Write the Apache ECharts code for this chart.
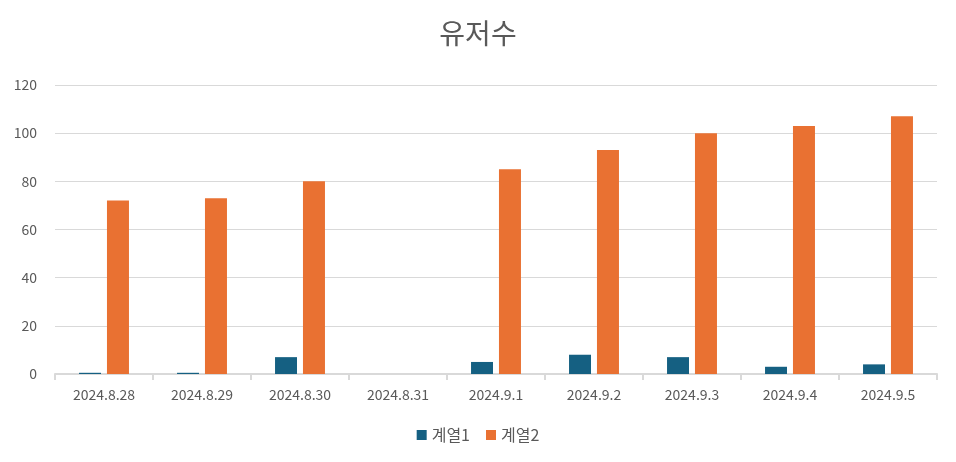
<!DOCTYPE html><html><head><meta charset="utf-8"><script src="https://cdn.jsdelivr.net/npm/echarts@6/dist/echarts.min.js"></script></head><body style="margin:0"><div id="c" style="width:956px;height:462px"></div><script>
const categories=['2024.8.28','2024.8.29','2024.8.30','2024.8.31','2024.9.1','2024.9.2','2024.9.3','2024.9.4','2024.9.5'];
const series1=[0.5,0.5,7,0,5,8,7,3,4];
const series2=[72,73,80,0,85,93,100,103,107];
const yTicks=[0,20,40,60,80,100,120];
const f='"Noto Sans CJK KR","Noto Sans",sans-serif';
const ch=echarts.init(document.getElementById('c'));
ch.setOption({
title:{text:'유저수',left:'center',top:14,textStyle:{fontFamily:f,fontSize:28,fontWeight:'normal',color:'#595959'}},
legend:{bottom:14,itemWidth:10,itemHeight:10,icon:'rect',itemGap:16,textStyle:{fontFamily:f,fontSize:16,color:'#595959'}},
grid:{left:55,right:19,top:85,bottom:88},
xAxis:{type:'category',data:categories,axisLine:{lineStyle:{color:'#d9d9d9',width:2}},axisTick:{show:true,length:6,lineStyle:{color:'#d9d9d9',width:2}},axisLabel:{fontFamily:f,fontSize:14,color:'#595959',margin:14}},
yAxis:{type:'value',min:0,max:120,interval:20,axisLabel:{fontFamily:f,fontSize:14,color:'#595959',margin:18,formatter:v=>yTicks.includes(v)?v:''},splitLine:{lineStyle:{color:'#d9d9d9'}}},
series:[{name:'계열1',type:'bar',data:series1,barWidth:22,barGap:'27%',barCategoryGap:'49%',itemStyle:{color:'#156082'}},
{name:'계열2',type:'bar',data:series2,barWidth:22,itemStyle:{color:'#e97132'}}]
});
</script></body></html>
